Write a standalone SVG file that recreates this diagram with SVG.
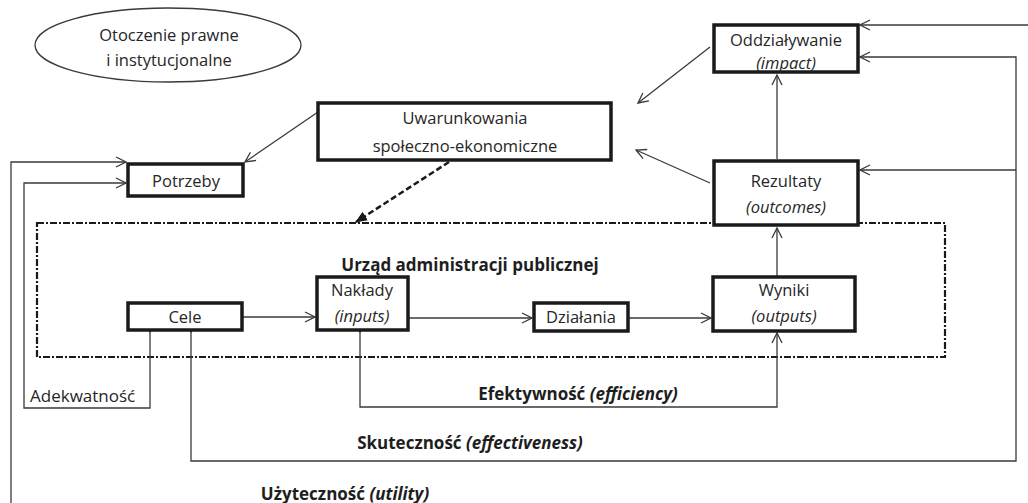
<svg xmlns="http://www.w3.org/2000/svg" width="1028" height="503" viewBox="0 0 1028 503">
  <style>
    .box { fill: #ffffff; stroke: #1a1a1a; stroke-width: 3.5; }
    .t { font-family: "Open Sans", "Liberation Sans", sans-serif; font-size: 16.5px; fill: #262626; text-anchor: middle; }
    .i { font-style: italic; }
    .b { font-weight: bold; font-size: 17px; fill: #1e1e1e; }
    .ln { fill: none; stroke: #3a3a3a; stroke-width: 1.3; }
  </style>
  <defs>
    <marker id="open" viewBox="0 0 12 12" refX="11" refY="6" markerWidth="12" markerHeight="12" markerUnits="userSpaceOnUse" orient="auto">
      <path d="M1,1 L11,6 L1,11" fill="none" stroke="#3a3a3a" stroke-width="1.3"/>
    </marker>
    <marker id="solid" viewBox="0 0 12 10" refX="11" refY="5" markerWidth="12" markerHeight="10" markerUnits="userSpaceOnUse" orient="auto">
      <path d="M0,0 L12,5 L0,10 Z" fill="#1a1a1a"/>
    </marker>
  </defs>

  <rect width="1028" height="503" fill="#ffffff"/>

  <!-- office boundary (dash-dot frame) -->
  <g id="office">
    <rect x="37" y="223" width="908" height="134" fill="none" stroke="#1a1a1a" stroke-width="2.2" stroke-dasharray="7 2 2 2"/>
    <text class="t b" x="470" y="271">Urząd administracji publicznej</text>
  </g>

  <!-- connectors -->
  <g id="connectors">
    <line class="ln" x1="318" y1="112" x2="245" y2="162" marker-end="url(#open)"/>
    <line class="ln" x1="710" y1="47" x2="638" y2="103" marker-end="url(#open)"/>
    <line class="ln" x1="710" y1="183" x2="636" y2="150" marker-end="url(#open)"/>
    <line class="ln" x1="777" y1="159" x2="777" y2="75" marker-end="url(#open)"/>
    <line class="ln" x1="777" y1="276" x2="777" y2="228" marker-end="url(#open)"/>
    <line class="ln" x1="243" y1="317" x2="315" y2="317" marker-end="url(#open)"/>
    <line class="ln" x1="409" y1="318" x2="532" y2="318" marker-end="url(#open)"/>
    <line class="ln" x1="629" y1="318" x2="711" y2="318" marker-end="url(#open)"/>
    <!-- dashed influence arrow -->
    <line x1="449" y1="162" x2="356" y2="222" stroke="#1a1a1a" stroke-width="2.5" stroke-dasharray="6 3" marker-end="url(#solid)"/>
    <!-- adequacy loop -->
    <path class="ln" d="M150,332 V408 H24 V183 H126" marker-start="url(#open)" marker-end="url(#open)"/>
    <!-- efficiency loop -->
    <path class="ln" d="M360,332 V407 H777 V333" marker-start="url(#open)" marker-end="url(#open)"/>
    <!-- effectiveness loop -->
    <path class="ln" d="M191,332 V461 H1016 V57 H860" marker-start="url(#open)" marker-end="url(#open)"/>
    <line class="ln" x1="1016" y1="170" x2="860" y2="170" marker-end="url(#open)"/>
    <!-- utility loop -->
    <path class="ln" d="M11,503 V162 H126" marker-end="url(#open)"/>
    <line class="ln" x1="1028" y1="25" x2="860" y2="25" marker-end="url(#open)"/>
  </g>

  <g id="env">
    <ellipse cx="168" cy="45" rx="133" ry="37" fill="#ffffff" stroke="#3a3a3a" stroke-width="1.3"/>
    <text class="t" x="169" y="41">Otoczenie prawne</text>
    <text class="t" x="169" y="66">i instytucjonalne</text>
  </g>

  <g id="socio">
    <rect class="box" x="318" y="103" width="293" height="57"/>
    <text class="t" x="465" y="124">Uwarunkowania</text>
    <text class="t" x="465" y="152">społeczno-ekonomiczne</text>
  </g>

  <g id="needs">
    <rect class="box" x="128" y="164" width="115" height="32"/>
    <text class="t" x="186" y="187">Potrzeby</text>
  </g>

  <g id="impact">
    <rect class="box" x="714" y="25" width="144" height="47"/>
    <text class="t" x="786" y="46">Oddziaływanie</text>
    <text class="t i" x="786" y="69">(impact)</text>
  </g>

  <g id="outcomes">
    <rect class="box" x="714" y="161" width="144" height="64"/>
    <text class="t" x="786" y="187">Rezultaty</text>
    <text class="t i" x="786" y="213">(outcomes)</text>
  </g>

  <g id="goals">
    <rect class="box" x="128" y="303" width="114" height="27"/>
    <text class="t" x="185" y="323">Cele</text>
  </g>

  <g id="inputs">
    <rect class="box" x="317" y="277" width="91" height="53"/>
    <text class="t" x="362" y="296">Nakłady</text>
    <text class="t i" x="362" y="322">(inputs)</text>
  </g>

  <g id="activities">
    <rect class="box" x="534" y="303" width="94" height="28"/>
    <text class="t" x="581" y="323">Działania</text>
  </g>

  <g id="outputs">
    <rect class="box" x="713" y="277" width="142" height="54"/>
    <text class="t" x="784" y="296">Wyniki</text>
    <text class="t i" x="784" y="322">(outputs)</text>
  </g>

  <g id="labels">
    <text class="t" x="30" y="402" style="text-anchor:start; font-size:17px">Adekwatność</text>
    <text class="t b" x="578" y="400">Efektywność <tspan class="i">(efficiency)</tspan></text>
    <text class="t b" x="470" y="449">Skuteczność <tspan class="i">(effectiveness)</tspan></text>
    <text class="t b" x="345" y="500">Użyteczność <tspan class="i">(utility)</tspan></text>
  </g>
</svg>
